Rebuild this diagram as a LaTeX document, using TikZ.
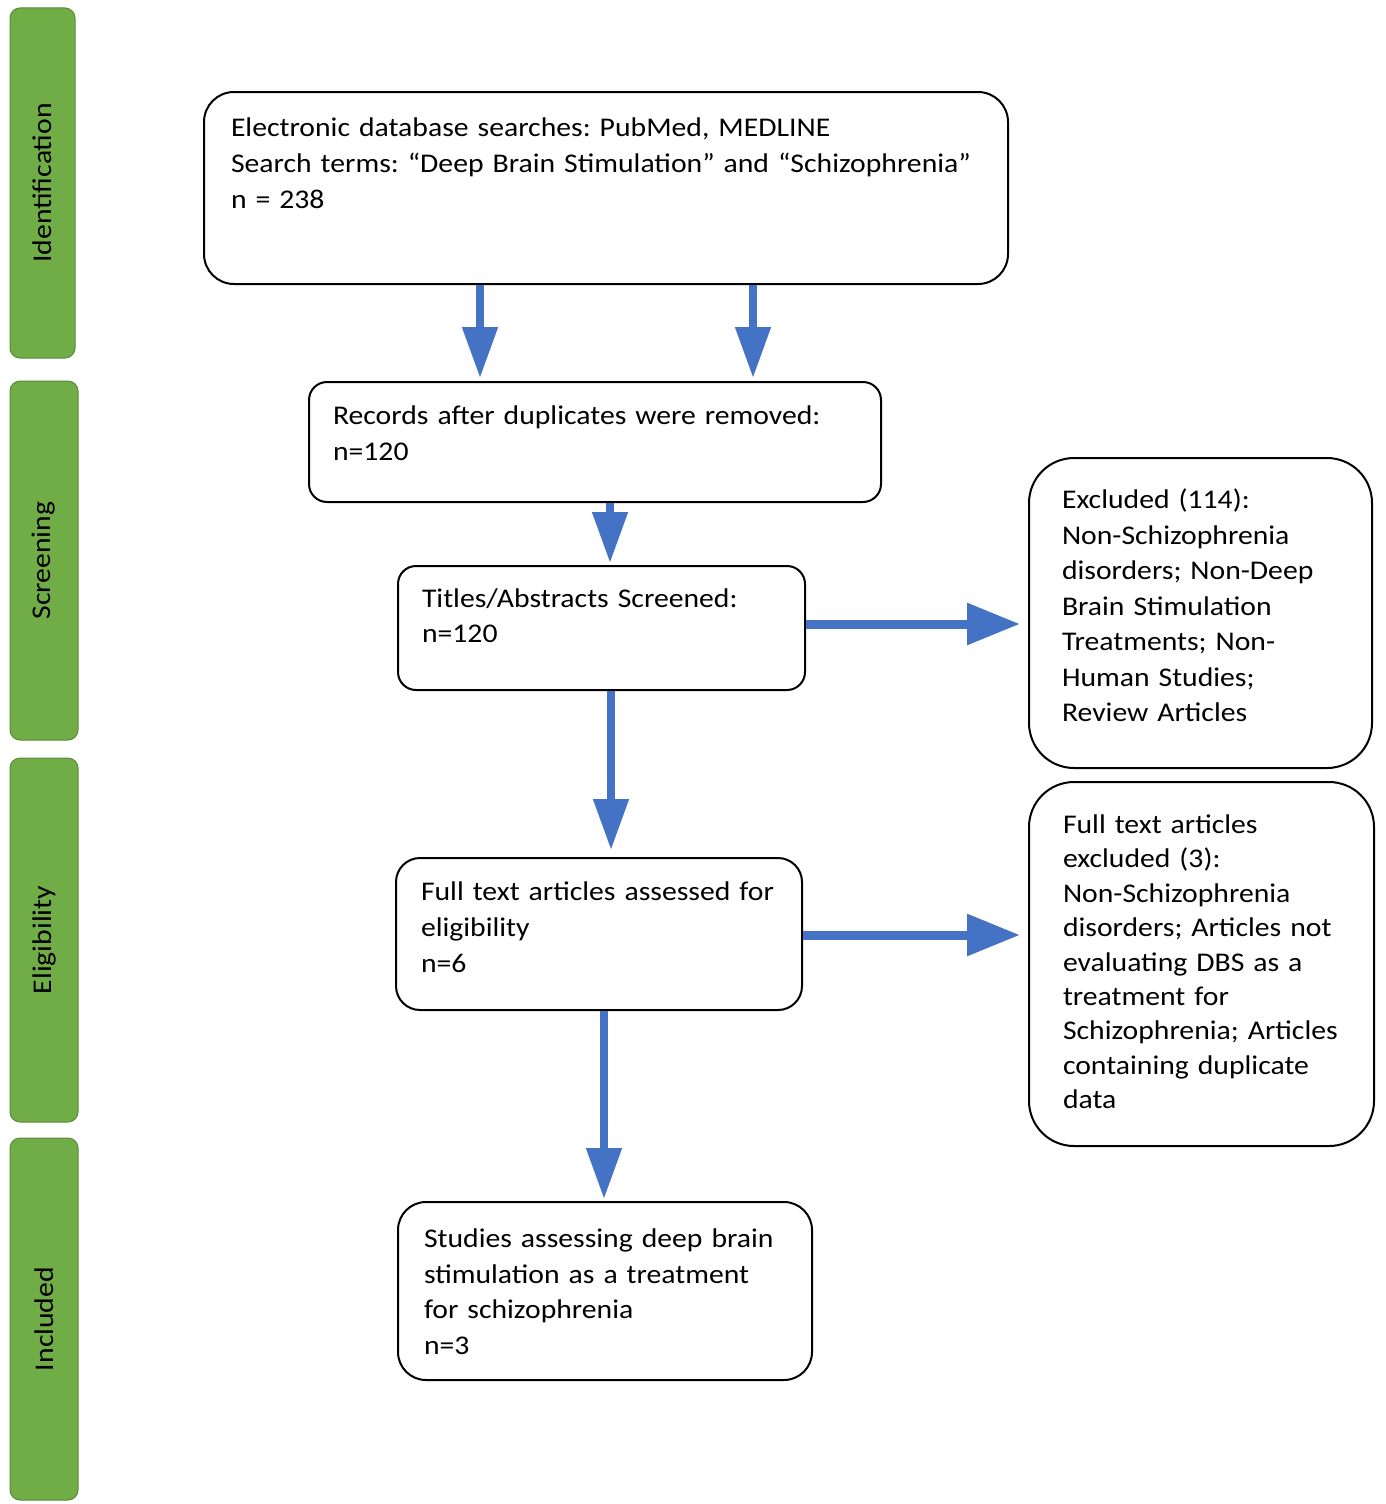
\documentclass[tikz,border=0pt]{standalone}
\usepackage{fontspec}
\setmainfont{Carlito}[FakeStretch=1.1]
\usetikzlibrary{arrows.meta}
\definecolor{bargreen}{HTML}{70AD47}
\definecolor{barline}{HTML}{5A8A3A}
\definecolor{arrblue}{HTML}{4472C4}
\frenchspacing
\begin{document}
\begin{tikzpicture}[x=1pt,y=-1pt,
  bar/.style={draw=barline, line width=1pt, fill=bargreen, rounded corners=10pt,
    rotate=90, inner sep=0pt, font=\fontsize{27}{32}\selectfont},
  flowbox/.style={draw=black, line width=2pt, anchor=north west, inner ysep=0pt,
    align=left},
  varr/.style={draw=arrblue, line width=8pt, -{Triangle[length=51pt,width=34pt]}},
  harr/.style={draw=arrblue, line width=9pt, -{Triangle[length=53pt,width=40pt]}}
]
\useasboundingbox (0,0) rectangle (1385,1504);

% stage bars
\node[bar, minimum width=350pt, minimum height=65pt] (s1) at (42.5,183) {Identification};
\node[bar, minimum width=359pt, minimum height=68pt] (s2) at (44,560.5) {Screening};
\node[bar, minimum width=364pt, minimum height=68pt] (s3) at (44,940) {Eligibility};
\node[bar, minimum width=362pt, minimum height=68pt] (s4) at (44,1319) {Included};

% boxes
\node[flowbox, rounded corners=30pt, inner xsep=27pt, text width=750pt,
  text height=44.5pt, text depth=147.5pt, font=\fontsize{27}{36}\selectfont] (b1) at (203,91)
  {Electronic database searches: PubMed, MEDLINE\\Search terms: “Deep Brain Stimulation” and “Schizophrenia”\\n = 238};
\node[flowbox, rounded corners=18pt, inner xsep=24pt, text width=524pt,
  text height=42pt, text depth=78pt, font=\fontsize{27}{36}\selectfont] (b2) at (308,381)
  {Records after duplicates were removed:\\n=120};
\node[flowbox, rounded corners=18pt, inner xsep=24pt, text width=359pt,
  text height=41.5pt, text depth=82.5pt, font=\fontsize{27}{35}\selectfont] (b3) at (397,565)
  {Titles/Abstracts Screened:\\n=120};
\node[flowbox, rounded corners=24pt, inner xsep=25pt, text width=356pt,
  text height=42.5pt, text depth=109.5pt, font=\fontsize{27}{36}\selectfont] (b4) at (395,857)
  {Full text articles assessed for\\eligibility\\n=6};
\node[flowbox, rounded corners=28pt, inner xsep=26pt, text width=362pt,
  text height=45.5pt, text depth=132.5pt, font=\fontsize{27}{35.7}\selectfont] (b5) at (397,1201)
  {Studies assessing deep brain\\stimulation as a treatment\\for schizophrenia\\n=3};
\node[flowbox, rounded corners=45pt, inner xsep=33pt, text width=277pt,
  text height=50.5pt, text depth=259.5pt, font=\fontsize{27}{35.5}\selectfont] (b6) at (1028,457)
  {Excluded (114):\\Non-Schizophrenia\\disorders; Non-Deep\\Brain Stimulation\\Treatments; Non-\\Human Studies;\\Review Articles};
\node[flowbox, rounded corners=45pt, inner xsep=34pt, text width=277pt,
  text height=51.5pt, text depth=312.5pt, font=\fontsize{27}{34.4}\selectfont] (b7) at (1028,781)
  {Full text articles\\excluded (3):\\Non-Schizophrenia\\disorders; Articles not\\evaluating DBS as a\\treatment for\\Schizophrenia; Articles\\containing duplicate\\data};

% arrow guide coordinates
\coordinate (xa) at (480,0);
\coordinate (xb) at (753,0);
\coordinate (xc) at (610,0);
\coordinate (xd) at (611,0);
\coordinate (xe) at (604,0);
\coordinate (ya) at (0,624);
\coordinate (yb) at (0,935);

\draw[varr, shorten >=3pt] (b1.south -| xa) -- (b2.north -| xa);
\draw[varr, shorten >=3pt] (b1.south -| xb) -- (b2.north -| xb);
\draw[varr, shorten >=2pt] (b2.south -| xc) -- (b3.north -| xc);
\draw[varr, shorten >=7pt] (b3.south -| xd) -- (b4.north -| xd);
\draw[varr, shorten >=2pt] (b4.south -| xe) -- (b5.north -| xe);
\draw[harr, shorten >=8pt] (b3.east |- ya) -- (b6.west |- ya);
\draw[harr, shorten >=8pt] (b4.east |- yb) -- (b7.west |- yb);
\end{tikzpicture}
\end{document}
